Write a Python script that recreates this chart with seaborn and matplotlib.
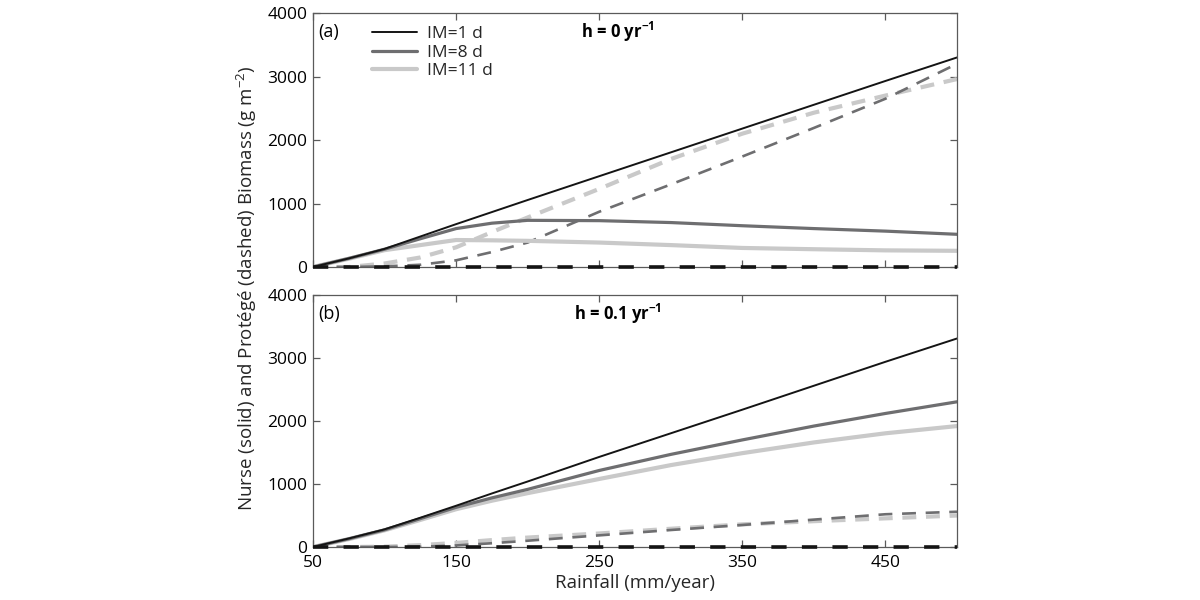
import numpy as np
import pandas as pd
import matplotlib
matplotlib.use("Agg")
import matplotlib.pyplot as plt
import seaborn as sns

# ---------------- data ----------------
rainfall = [50, 75, 100, 125, 150, 175, 200, 250, 300, 350, 400, 450, 500]
im_labels = ["IM=1 d", "IM=8 d", "IM=11 d"]

# panel (a): h = 0 yr^-1
nurse_a_im1 = [0, 135, 285, 480, 675, 865, 1055, 1430, 1805, 2180, 2555, 2930, 3300]
nurse_a_im8 = [0, 135, 280, 445, 605, 690, 735, 730, 700, 650, 605, 565, 515]
nurse_a_im11 = [0, 130, 265, 345, 425, 420, 412, 385, 345, 300, 280, 262, 255]
protege_a_im1 = [0, 0, 0, 0, 0, 0, 0, 0, 0, 0, 0, 0, 0]
protege_a_im8 = [0, 0, 10, 35, 105, 235, 385, 870, 1300, 1740, 2190, 2650, 3200]
protege_a_im11 = [0, 0, 55, 150, 310, 550, 780, 1230, 1700, 2100, 2430, 2700, 2960]

# panel (b): h = 0.1 yr^-1
nurse_b_im1 = [0, 135, 280, 465, 655, 850, 1040, 1430, 1805, 2180, 2560, 2940, 3310]
nurse_b_im8 = [0, 130, 272, 450, 630, 780, 915, 1215, 1470, 1700, 1920, 2120, 2305]
nurse_b_im11 = [0, 125, 265, 430, 600, 735, 855, 1080, 1300, 1490, 1660, 1805, 1920]
protege_b_im1 = [0, 0, 0, 0, 0, 0, 0, 0, 0, 0, 0, 0, 0]
protege_b_im8 = [0, 0, 0, 5, 25, 60, 100, 185, 270, 350, 435, 520, 560]
protege_b_im11 = [0, 0, 5, 30, 65, 110, 150, 215, 290, 360, 410, 455, 500]

x_ticks = [50, 150, 250, 350, 450]
y_ticks = [0, 1000, 2000, 3000, 4000]

# ---------------- style ----------------
sns.set_theme(style="ticks")
plt.rcParams["font.family"] = ["Open Sans", "DejaVu Sans"]
plt.rcParams["mathtext.fontset"] = "custom"
plt.rcParams["mathtext.rm"] = "Open Sans"
plt.rcParams["mathtext.bf"] = "Open Sans:bold"
plt.rcParams["lines.scale_dashes"] = False

colors = {"IM=1 d": "#141414", "IM=8 d": "#6e6e70", "IM=11 d": "#c9c9c9"}
solid_w = {"IM=1 d": 1.4, "IM=8 d": 2.3, "IM=11 d": 3.0}
dash_w = {"IM=1 d": 2.6, "IM=8 d": 1.9, "IM=11 d": 3.0}
spine_col = "#5a5a5a"

fig = plt.figure(figsize=(12, 6), dpi=100)
ax1 = fig.add_axes([0.2608, 0.555, 0.5367, 0.4233])
ax2 = fig.add_axes([0.2608, 0.0883, 0.5367, 0.42])

panels = [
    (ax1, [nurse_a_im1, nurse_a_im8, nurse_a_im11],
     [protege_a_im1, protege_a_im8, protege_a_im11], "(a)",
     r"h = 0 yr$^{\mathbf{-1}}$"),
    (ax2, [nurse_b_im1, nurse_b_im8, nurse_b_im11],
     [protege_b_im1, protege_b_im8, protege_b_im11], "(b)",
     r"h = 0.1 yr$^{\mathbf{-1}}$"),
]

for ax, nurses, proteges, tag, title in panels:
    # dashed protege lines (light first so darker on top)
    for lab, vals in reversed(list(zip(im_labels, proteges))):
        df = pd.DataFrame({"rain": rainfall, "bio": vals})
        sns.lineplot(data=df, x="rain", y="bio", ax=ax, color=colors[lab],
                     linewidth=dash_w[lab], legend=False)
        line = ax.lines[-1]
        if lab == "IM=1 d":
            line.set_dashes((11, 11))
            line.set_clip_on(False)
            line.set_zorder(5)
        else:
            line.set_dashes((10, 7))
    # solid nurse lines
    for lab, vals in reversed(list(zip(im_labels, nurses))):
        df = pd.DataFrame({"rain": rainfall, "bio": vals})
        sns.lineplot(data=df, x="rain", y="bio", ax=ax, color=colors[lab],
                     linewidth=solid_w[lab], label=lab if ax is ax1 else None,
                     legend=False)

    ax.set_xlim(50, 500)
    ax.set_ylim(0, 4000)
    ax.set_xticks(x_ticks)
    ax.set_yticks(y_ticks)
    ax.set_xlabel("")
    ax.set_ylabel("")
    ax.tick_params(direction="in", top=True, right=True, length=5,
                   width=0.9, color=spine_col, labelsize=12.5,
                   labelcolor="black")
    ax.tick_params(axis="y", pad=4)
    ax.tick_params(axis="x", pad=6)
    for s in ax.spines.values():
        s.set_visible(True)
        s.set_color(spine_col)
        s.set_linewidth(0.9)
    ax.text(0.008, 0.925, tag, transform=ax.transAxes, fontsize=13,
            ha="left", va="center", color="black")
    ax.text(0.474, 0.925, title, transform=ax.transAxes, fontsize=12,
            fontweight="bold", ha="center", va="center", color="black")

ax1.tick_params(labelbottom=False)

# legend (solid lines only)
handles = [l for l in ax1.lines if l.get_label() in im_labels]
order = {lab: i for i, lab in enumerate(im_labels)}
handles.sort(key=lambda h: order[h.get_label()])
ax1.legend(handles=handles, labels=[h.get_label() for h in handles],
           loc="upper left", bbox_to_anchor=(0.0916, 0.95), frameon=False,
           borderpad=0, borderaxespad=0, handlelength=2.6, handletextpad=0.55,
           labelspacing=0.15, fontsize=12.5)

fig.text(0.2058, 0.52,
         "Nurse (solid) and Protégé (dashed) Biomass (g m$^{-2}$)",
         rotation=90, ha="center", va="center", fontsize=13.5)
fig.text(0.529, 0.028, "Rainfall (mm/year)", ha="center", va="center",
         fontsize=13.5)

fig.savefig("out.png", dpi=100)
